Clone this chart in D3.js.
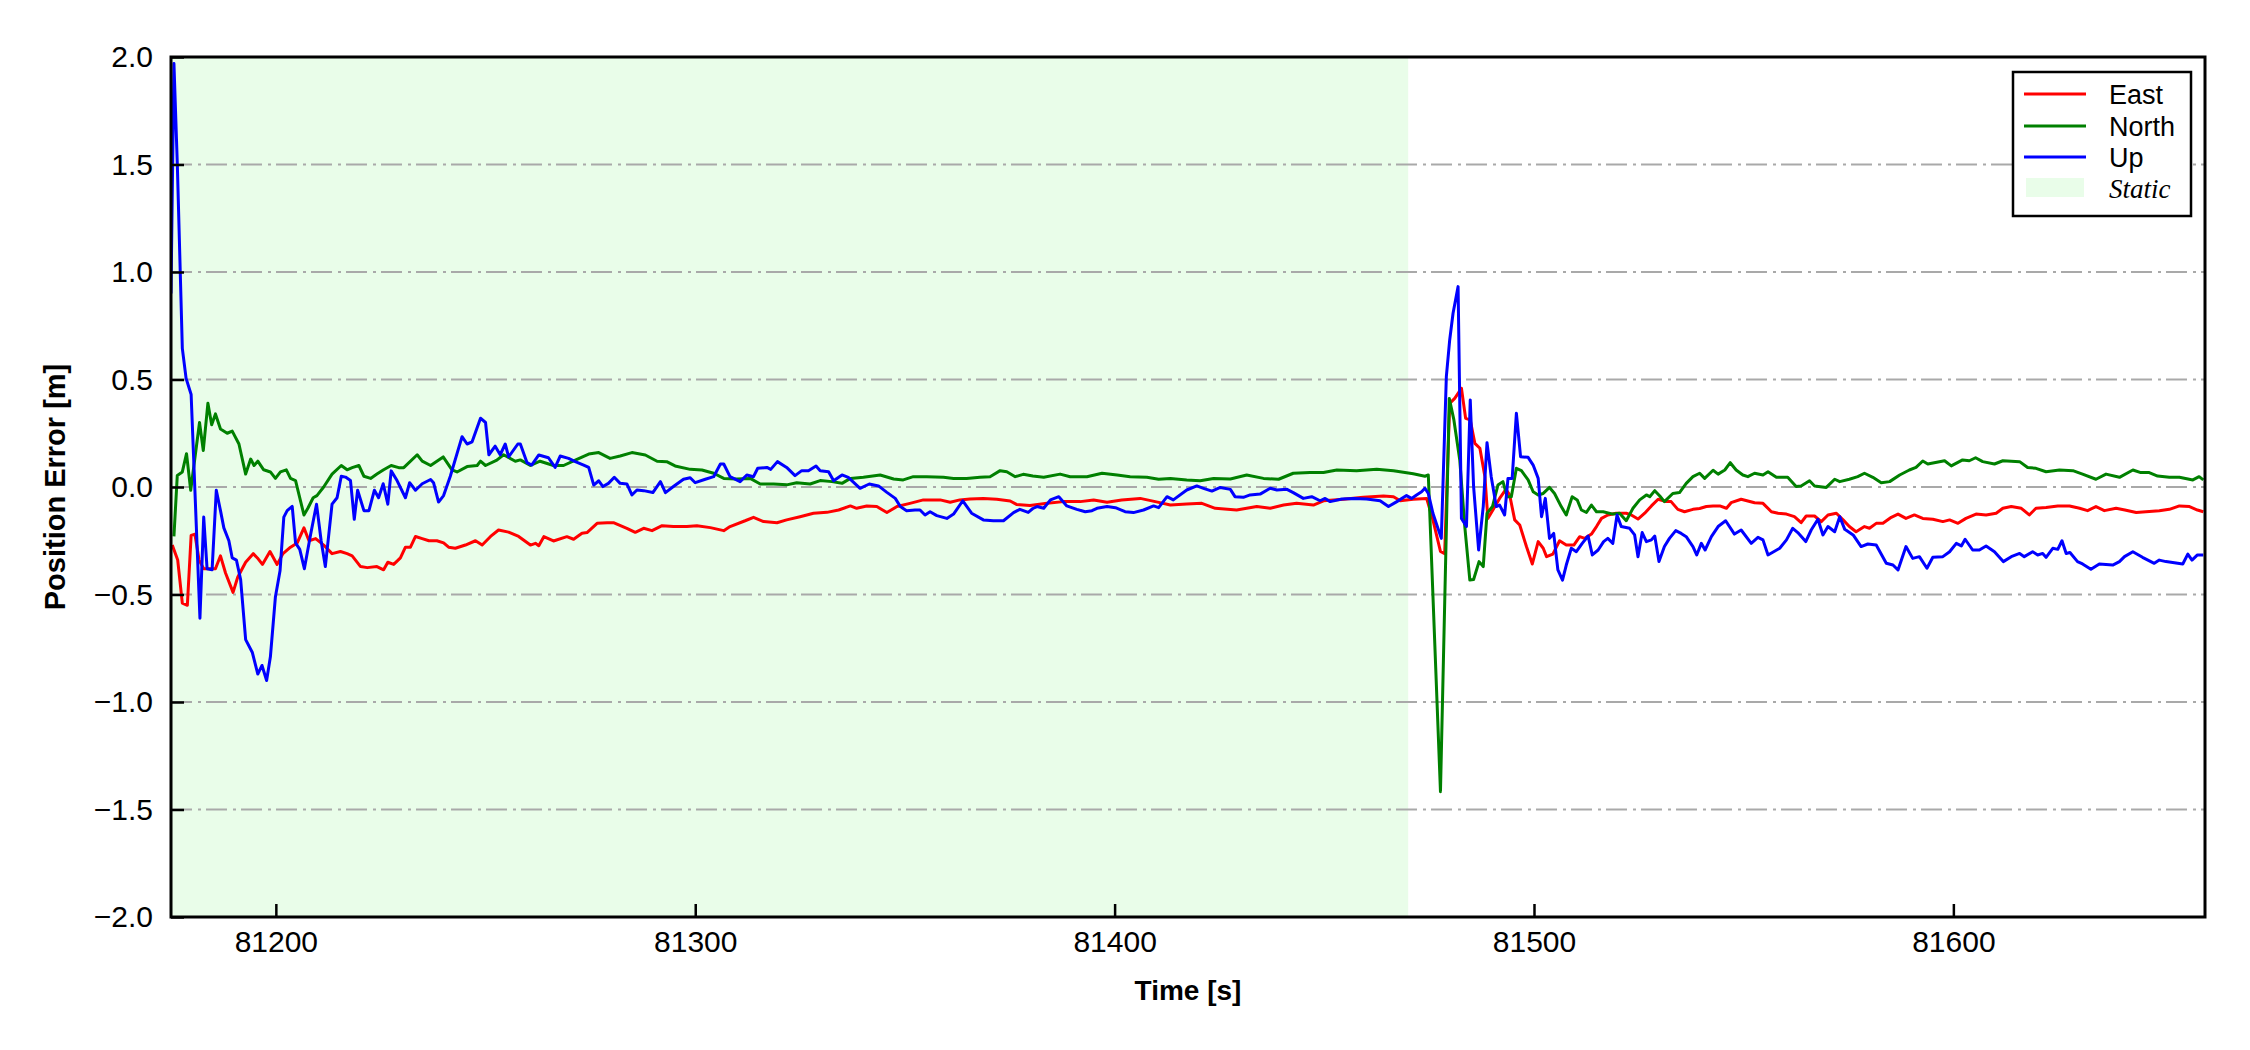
<!DOCTYPE html>
<html>
<head>
<meta charset="utf-8">
<script src="https://cdn.jsdelivr.net/npm/d3@7"></script>
<style>
  html, body { margin: 0; padding: 0; background: #fff; }
  svg { display: block; }
</style>
</head>
<body>
<svg id="chart" width="2250" height="1050"></svg>
<script>
// ---------------- DATA ----------------
const xDomain = [81175, 81660];
const yDomain = [-2, 2];
const xTicks = [81200, 81300, 81400, 81500, 81600];
const yTicks = [-2, -1.5, -1, -0.5, 0, 0.5, 1, 1.5, 2];
const staticSpan = [81175, 81470];
const seriesNames = ["East", "North", "Up"];
const staticLabel = "Static";
const xTitle = "Time [s]";
const yTitle = "Position Error [m]";

const east = [[81175.3,-0.27],[81176.6,-0.34],[81177.7,-0.54],[81178.9,-0.55],[81179.8,-0.225],[81180.7,-0.22],[81181.7,-0.34],[81182.8,-0.38],[81184,-0.38],[81185.6,-0.38],[81186.8,-0.32],[81188,-0.40],[81189.8,-0.49],[81190.9,-0.42],[81192.8,-0.35],[81194.6,-0.31],[81195.6,-0.33],[81196.8,-0.36],[81198.6,-0.30],[81200.3,-0.36],[81201.7,-0.31],[81203.5,-0.28],[81205.1,-0.26],[81206.7,-0.19],[81207.9,-0.25],[81209.5,-0.24],[81211.4,-0.27],[81213.4,-0.31],[81215.4,-0.30],[81217,-0.31],[81218.2,-0.32],[81220.2,-0.37],[81221.8,-0.375],[81224.1,-0.37],[81225.7,-0.385],[81226.7,-0.35],[81228.1,-0.36],[81229.7,-0.33],[81230.9,-0.28],[81232.1,-0.28],[81233.3,-0.23],[81234.9,-0.24],[81236.5,-0.25],[81238.4,-0.25],[81240,-0.26],[81241.2,-0.28],[81242.8,-0.285],[81245.2,-0.27],[81247.6,-0.25],[81249.2,-0.27],[81251.2,-0.23],[81253.1,-0.2],[81255.5,-0.21],[81257.9,-0.23],[81260.7,-0.27],[81261.9,-0.262],[81262.7,-0.273],[81263.9,-0.231],[81266.2,-0.251],[81269.4,-0.231],[81271,-0.243],[81273,-0.215],[81274.2,-0.212],[81276.6,-0.169],[81279,-0.166],[81280.5,-0.166],[81283.7,-0.192],[81285.7,-0.211],[81287.7,-0.192],[81289.7,-0.203],[81292.1,-0.18],[81294.8,-0.184],[81298,-0.184],[81300.4,-0.18],[81303.6,-0.189],[81306.8,-0.203],[81308.3,-0.184],[81311.9,-0.157],[81313.9,-0.141],[81316.3,-0.161],[81319.5,-0.166],[81321.8,-0.153],[81325,-0.138],[81328.2,-0.122],[81331.4,-0.118],[81334.2,-0.107],[81337,-0.088],[81338.5,-0.099],[81340.9,-0.088],[81343.3,-0.091],[81345.7,-0.119],[81348.1,-0.091],[81351.2,-0.076],[81354.4,-0.06],[81358.4,-0.06],[81360.8,-0.071],[81363.1,-0.06],[81365.5,-0.056],[81368.7,-0.053],[81371.9,-0.057],[81375.1,-0.065],[81376.6,-0.081],[81379.8,-0.086],[81383.9,-0.076],[81387.8,-0.068],[81391.8,-0.068],[81395,-0.06],[81398.2,-0.071],[81401.7,-0.06],[81406.1,-0.053],[81409.7,-0.068],[81413.3,-0.084],[81417.2,-0.079],[81420.8,-0.076],[81424,-0.099],[81429.1,-0.107],[81433.9,-0.091],[81437.1,-0.099],[81440.3,-0.084],[81443.4,-0.076],[81447.4,-0.084],[81449.8,-0.064],[81454.6,-0.057],[81459.3,-0.048],[81464.1,-0.042],[81466.5,-0.045],[81468.1,-0.064],[81471.2,-0.057],[81474.4,-0.053],[81475.9,-0.153],[81477.7,-0.30],[81478.7,-0.31],[81479.9,0.389],[81481.1,0.412],[81482.7,0.459],[81483.7,0.319],[81484.8,0.312],[81485.9,0.203],[81487.1,0.18],[81488.3,0.048],[81489,-0.146],[81490.2,-0.107],[81491.8,-0.053],[81493.3,-0.011],[81494.2,-0.037],[81495.4,-0.153],[81496.6,-0.177],[81498.2,-0.277],[81499.6,-0.358],[81501,-0.254],[81502.2,-0.285],[81503,-0.324],[81504.5,-0.312],[81506.1,-0.25],[81507.7,-0.27],[81509.5,-0.27],[81510.9,-0.231],[81512.1,-0.239],[81513.7,-0.219],[81514.9,-0.184],[81516.1,-0.146],[81517.6,-0.13],[81519.6,-0.122],[81522,-0.122],[81523.2,-0.13],[81524.8,-0.149],[81526.4,-0.122],[81528,-0.088],[81529.6,-0.057],[81531.5,-0.068],[81532.7,-0.068],[81534.3,-0.104],[81535.9,-0.115],[81537.9,-0.104],[81539.5,-0.1],[81541.1,-0.091],[81542.7,-0.088],[81544.3,-0.088],[81545.9,-0.099],[81547,-0.073],[81549.4,-0.057],[81552.6,-0.073],[81554.6,-0.076],[81556.6,-0.115],[81558.2,-0.122],[81560.2,-0.126],[81562.1,-0.138],[81563.7,-0.166],[81564.9,-0.135],[81566.9,-0.135],[81568.5,-0.161],[81570.1,-0.13],[81572.1,-0.122],[81573.7,-0.153],[81575.2,-0.184],[81576.8,-0.208],[81578.8,-0.184],[81580,-0.192],[81581.6,-0.169],[81583.2,-0.169],[81585.2,-0.141],[81586.8,-0.126],[81588.7,-0.146],[81590.7,-0.13],[81592.7,-0.146],[81595.1,-0.15],[81597.5,-0.161],[81599.1,-0.153],[81601.1,-0.169],[81603,-0.146],[81605.4,-0.126],[81607.8,-0.13],[81610.2,-0.122],[81611.8,-0.099],[81613.8,-0.091],[81616.2,-0.099],[81618.1,-0.13],[81619.7,-0.099],[81622.1,-0.095],[81624.9,-0.088],[81627.7,-0.088],[81630.1,-0.099],[81632,-0.11],[81634,-0.091],[81636,-0.11],[81638.8,-0.099],[81640.9,-0.107],[81643.6,-0.119],[81645.9,-0.115],[81649.1,-0.11],[81651.5,-0.104],[81653.9,-0.088],[81656.3,-0.091],[81658.2,-0.107],[81659.6,-0.115]];

const north = [[81175.7,-0.23],[81176.5,0.054],[81177.7,0.07],[81178.7,0.155],[81179.7,-0.015],[81181.8,0.30],[81182.7,0.17],[81183.8,0.39],[81184.7,0.29],[81185.6,0.34],[81186.8,0.27],[81188.4,0.25],[81189.6,0.26],[81191.2,0.2],[81192.8,0.06],[81194,0.13],[81194.8,0.1],[81195.7,0.12],[81197.1,0.08],[81198.7,0.07],[81199.9,0.04],[81201.1,0.07],[81202.5,0.08],[81203.5,0.04],[81204.7,0.03],[81206.7,-0.13],[81207.6,-0.1],[81208.9,-0.05],[81209.8,-0.04],[81211.4,0.0],[81213.4,0.06],[81215.6,0.1],[81217,0.08],[81218.2,0.09],[81219.8,0.1],[81221,0.05],[81222.6,0.04],[81224.1,0.06],[81225.7,0.08],[81227.5,0.1],[81229.3,0.09],[81230.5,0.09],[81233.7,0.15],[81234.9,0.12],[81236.9,0.1],[81239.9,0.14],[81242,0.08],[81243.2,0.07],[81245.6,0.095],[81248,0.10],[81248.8,0.12],[81250,0.10],[81252.7,0.125],[81254.3,0.15],[81257.1,0.12],[81258.3,0.126],[81260.7,0.1],[81263,0.12],[81266.2,0.10],[81268.6,0.10],[81271.4,0.125],[81274.6,0.153],[81277,0.16],[81279.7,0.133],[81282.1,0.144],[81284.9,0.16],[81288.1,0.149],[81290.9,0.12],[81293.2,0.118],[81295.2,0.098],[81298.8,0.082],[81301.6,0.079],[81304.4,0.064],[81306.8,0.04],[81309.9,0.037],[81313.1,0.04],[81315.5,0.014],[81318.7,0.014],[81321.8,0.01],[81324.2,0.02],[81327.4,0.014],[81329.8,0.03],[81332.6,0.025],[81335,0.017],[81337,0.04],[81340.1,0.045],[81344.1,0.056],[81347.3,0.037],[81349.6,0.033],[81352,0.048],[81355.2,0.048],[81359.2,0.045],[81361.6,0.04],[81364.7,0.04],[81367.9,0.045],[81370.3,0.048],[81372.7,0.076],[81374.3,0.071],[81376.3,0.048],[81378.2,0.059],[81380.5,0.051],[81383.1,0.045],[81387,0.06],[81389.4,0.048],[81393.4,0.048],[81397,0.064],[81400.6,0.056],[81403.7,0.048],[81407.7,0.045],[81410.5,0.036],[81413.3,0.04],[81417.2,0.033],[81420.4,0.029],[81423.6,0.04],[81427.6,0.037],[81431.5,0.056],[81435.5,0.04],[81439.1,0.036],[81442.6,0.064],[81446.6,0.067],[81449.8,0.067],[81453,0.079],[81457.7,0.076],[81462.5,0.082],[81466.5,0.076],[81471.2,0.062],[81474,0.05],[81474.8,0.056],[81477.7,-1.417],[81479.8,0.412],[81480.9,0.312],[81482.3,0.126],[81483.5,-0.184],[81484.7,-0.433],[81485.6,-0.43],[81486.9,-0.347],[81487.9,-0.37],[81488.8,-0.122],[81490.1,-0.091],[81491.4,0.009],[81492.6,0.025],[81493.6,-0.045],[81494.6,-0.045],[81495.8,0.087],[81497,0.076],[81498.6,0.033],[81499.8,-0.022],[81501,-0.037],[81502.2,-0.03],[81503.7,-0.002],[81504.9,-0.03],[81506.5,-0.091],[81507.7,-0.13],[81509.1,-0.045],[81510.3,-0.06],[81511.3,-0.107],[81512.5,-0.118],[81513.7,-0.084],[81514.9,-0.115],[81516.5,-0.115],[81518.8,-0.126],[81520.4,-0.122],[81522,-0.157],[81523.6,-0.099],[81525.2,-0.06],[81526.8,-0.037],[81527.6,-0.045],[81528.8,-0.017],[81530,-0.042],[81531.1,-0.068],[81533.1,-0.03],[81534.7,-0.026],[81536.3,0.017],[81537.9,0.048],[81539.5,0.064],[81540.7,0.04],[81542.7,0.078],[81543.9,0.06],[81545.5,0.079],[81546.8,0.113],[81548.2,0.079],[81549.8,0.056],[81551,0.048],[81552.6,0.064],[81554.6,0.056],[81555.8,0.071],[81557.8,0.045],[81560.5,0.045],[81562.5,0.002],[81563.7,0.005],[81565.7,0.029],[81566.9,0.005],[81569.7,-0.002],[81571.7,0.036],[81572.9,0.025],[81575.2,0.036],[81577.2,0.048],[81578.8,0.064],[81580.8,0.045],[81582.8,0.02],[81584.8,0.025],[81587.2,0.056],[81589.5,0.079],[81591.1,0.091],[81592.7,0.121],[81593.9,0.107],[81597.9,0.122],[81599.5,0.098],[81602.2,0.126],[81603.8,0.122],[81605.3,0.136],[81607,0.118],[81609.8,0.107],[81611.8,0.122],[81615.8,0.118],[81617.7,0.091],[81619.7,0.087],[81622.1,0.071],[81625.3,0.079],[81628.5,0.076],[81630.8,0.06],[81634,0.036],[81636.4,0.06],[81639.6,0.045],[81642.8,0.079],[81644.7,0.067],[81646.7,0.067],[81648.7,0.051],[81651.5,0.045],[81653.9,0.045],[81657.1,0.033],[81658.6,0.048],[81659.6,0.033]];

const up = [[81175.0,0.9],[81175.7,1.97],[81176.5,1.505],[81177.7,0.645],[81178.6,0.505],[81179.8,0.43],[81181.9,-0.61],[81182.8,-0.14],[81183.6,-0.38],[81184.8,-0.385],[81185.8,-0.015],[81186.8,-0.11],[81187.6,-0.19],[81188.8,-0.25],[81189.6,-0.33],[81190.6,-0.34],[81191.6,-0.43],[81192.8,-0.71],[81194.4,-0.77],[81195.7,-0.87],[81196.7,-0.83],[81197.8,-0.9],[81198.7,-0.79],[81199.9,-0.51],[81201,-0.39],[81201.9,-0.14],[81202.7,-0.11],[81203.9,-0.09],[81204.7,-0.26],[81205.7,-0.29],[81206.8,-0.38],[81208.3,-0.22],[81209.7,-0.08],[81210.8,-0.25],[81211.8,-0.37],[81213.4,-0.08],[81214.6,-0.05],[81215.6,0.05],[81216.6,0.046],[81217.8,0.03],[81218.7,-0.15],[81219.5,-0.015],[81221,-0.11],[81222.2,-0.11],[81223.5,-0.015],[81224.5,-0.05],[81225.6,0.015],[81226.7,-0.08],[81227.5,0.075],[81228.9,0.03],[81230.9,-0.05],[81231.9,0.02],[81233.3,-0.015],[81234.9,0.015],[81236.9,0.035],[81237.6,0.02],[81238.8,-0.07],[81240,-0.04],[81241.6,0.05],[81244.4,0.234],[81245.6,0.2],[81246.8,0.21],[81248.8,0.32],[81250,0.30],[81250.8,0.15],[81252.3,0.19],[81253.5,0.15],[81254.7,0.2],[81255.5,0.14],[81257.7,0.2],[81258.3,0.2],[81259.9,0.113],[81261,0.102],[81262.7,0.149],[81265,0.136],[81266.6,0.091],[81267.8,0.144],[81269.8,0.133],[81271.4,0.118],[81273.4,0.102],[81274.6,0.091],[81275.8,0.009],[81277,0.029],[81278,0.002],[81279.3,0.017],[81280.7,0.045],[81282.1,0.017],[81283.7,0.014],[81284.9,-0.037],[81286.1,-0.014],[81287.7,-0.017],[81289.9,-0.026],[81291.7,0.025],[81292.9,-0.026],[81294.8,0.002],[81297.2,0.036],[81298.8,0.043],[81300,0.02],[81302.4,0.036],[81304.4,0.048],[81306,0.107],[81306.8,0.107],[81308.3,0.048],[81310.7,0.025],[81312.3,0.056],[81313.9,0.048],[81314.9,0.087],[81317.1,0.091],[81318,0.082],[81319.6,0.118],[81321.8,0.091],[81323.8,0.053],[81325.4,0.076],[81327,0.076],[81328.8,0.098],[81329.8,0.076],[81331.8,0.071],[81333,0.029],[81335,0.056],[81336.5,0.045],[81339.3,-0.006],[81341.5,0.014],[81343.7,0.005],[81345.7,-0.025],[81347.7,-0.053],[81348.9,-0.091],[81350.4,-0.11],[81352.4,-0.107],[81353.6,-0.107],[81354.8,-0.13],[81356,-0.115],[81357.6,-0.133],[81360,-0.146],[81361.6,-0.126],[81363.8,-0.064],[81365.9,-0.122],[81368.7,-0.153],[81371.1,-0.157],[81373.5,-0.157],[81375.9,-0.119],[81377.4,-0.104],[81379.4,-0.118],[81380.5,-0.1],[81381.5,-0.091],[81383.1,-0.099],[81384.7,-0.06],[81386.7,-0.045],[81388.6,-0.088],[81391,-0.104],[81393,-0.115],[81394.6,-0.11],[81395.8,-0.099],[81398.2,-0.091],[81400.2,-0.096],[81402.5,-0.115],[81404.5,-0.119],[81406.9,-0.107],[81409.3,-0.088],[81410.5,-0.096],[81412.5,-0.045],[81414,-0.06],[81417.2,-0.014],[81419.6,0.005],[81421.2,-0.006],[81423.2,-0.019],[81425.2,-0.002],[81427.6,-0.011],[81428.7,-0.045],[81430.7,-0.048],[81432.3,-0.037],[81434.7,-0.033],[81437.1,-0.006],[81438.7,-0.014],[81441.1,-0.011],[81442.6,-0.026],[81445,-0.053],[81447,-0.045],[81449,-0.064],[81450.2,-0.053],[81451.4,-0.068],[81454.2,-0.056],[81457,-0.053],[81460.1,-0.056],[81463.3,-0.064],[81465.3,-0.091],[81467.3,-0.068],[81469.6,-0.04],[81470.8,-0.053],[81472,-0.037],[81473.2,-0.022],[81474,-0.006],[81474.8,-0.03],[81475.9,-0.122],[81477.9,-0.239],[81479.1,0.513],[81479.9,0.684],[81480.7,0.808],[81481.9,0.932],[81482.7,-0.146],[81483.9,-0.184],[81484.8,0.405],[81485.6,0.002],[81486.8,-0.293],[81487.9,-0.091],[81488.8,0.206],[81489.8,0.048],[81491,-0.091],[81491.8,-0.084],[81493,-0.13],[81493.8,0.04],[81494.8,0.04],[81495.8,0.343],[81496.8,0.141],[81498.6,0.138],[81499.8,0.102],[81501,0.04],[81501.8,-0.138],[81502.7,-0.053],[81503.7,-0.239],[81504.7,-0.216],[81505.7,-0.386],[81506.8,-0.433],[81507.7,-0.363],[81508.9,-0.285],[81510.1,-0.301],[81511.5,-0.262],[81512.9,-0.228],[81513.9,-0.316],[81515.3,-0.293],[81516.6,-0.254],[81517.6,-0.239],[81518.8,-0.262],[81519.8,-0.13],[81520.8,-0.184],[81522.8,-0.192],[81524,-0.223],[81524.8,-0.324],[81525.8,-0.212],[81526.8,-0.254],[81528,-0.246],[81528.8,-0.228],[81529.8,-0.347],[81531.1,-0.277],[81532.3,-0.239],[81533.8,-0.203],[81535.1,-0.216],[81536.3,-0.231],[81537.9,-0.277],[81538.8,-0.316],[81539.9,-0.262],[81540.8,-0.293],[81542.3,-0.231],[81543.9,-0.184],[81545.7,-0.157],[81547.8,-0.219],[81549.4,-0.2],[81551.8,-0.262],[81553.4,-0.234],[81554.6,-0.246],[81555.8,-0.316],[81558.6,-0.285],[81560.2,-0.246],[81561.7,-0.192],[81562.9,-0.212],[81564.8,-0.254],[81566.1,-0.2],[81567.7,-0.15],[81568.9,-0.223],[81570.1,-0.184],[81571.7,-0.208],[81572.9,-0.138],[81574.1,-0.197],[81576.1,-0.223],[81578,-0.277],[81579.6,-0.265],[81581.6,-0.27],[81584,-0.355],[81585.6,-0.363],[81586.8,-0.386],[81588.7,-0.277],[81590.3,-0.332],[81591.9,-0.324],[81593.7,-0.378],[81595.1,-0.327],[81597.5,-0.324],[81599.1,-0.301],[81600.7,-0.262],[81601.9,-0.274],[81602.8,-0.243],[81604.6,-0.293],[81606.2,-0.293],[81607.8,-0.274],[81609.8,-0.301],[81611.9,-0.347],[81613.8,-0.324],[81615.8,-0.309],[81616.9,-0.324],[81618.9,-0.301],[81620.1,-0.316],[81621.3,-0.309],[81622.1,-0.327],[81623.7,-0.285],[81624.9,-0.29],[81625.9,-0.25],[81626.9,-0.309],[81627.8,-0.305],[81629.6,-0.347],[81630.8,-0.358],[81632.8,-0.383],[81634.8,-0.358],[81638,-0.363],[81639.6,-0.347],[81640.8,-0.324],[81642.8,-0.301],[81645.1,-0.327],[81647.9,-0.355],[81649.1,-0.34],[81650.7,-0.347],[81652.7,-0.352],[81654.7,-0.358],[81655.9,-0.312],[81656.9,-0.34],[81658.2,-0.316],[81659.6,-0.316]];

const seriesData = [east, north, up];
const seriesColors = ["#ff0000", "#008000", "#0000ff"];
const staticColor = "#e9fde9";

// ---------------- LAYOUT ----------------
const M = { left: 171, right: 2205, top: 57, bottom: 917 };
const svg = d3.select("#chart");
const x = d3.scaleLinear().domain(xDomain).range([M.left, M.right]);
const y = d3.scaleLinear().domain(yDomain).range([M.bottom, M.top]);

const tickFont = "'Liberation Sans', Arial, Helvetica, sans-serif";
const fmtY = v => d3.format(".1f")(v).replace("-", "\u2212");

svg.append("defs").append("clipPath").attr("id", "clip")
  .append("rect").attr("x", M.left).attr("y", M.top)
  .attr("width", M.right - M.left).attr("height", M.bottom - M.top);

// static shading
svg.append("rect")
  .attr("x", x(staticSpan[0])).attr("y", M.top)
  .attr("width", x(staticSpan[1]) - x(staticSpan[0]))
  .attr("height", M.bottom - M.top)
  .attr("fill", staticColor)
  .attr("clip-path", "url(#clip)");

// gridlines
svg.append("g").selectAll("line")
  .data(yTicks.filter(v => v > yDomain[0] && v < yDomain[1]))
  .join("line")
  .attr("x1", M.left).attr("x2", M.right)
  .attr("y1", d => y(d)).attr("y2", d => y(d))
  .attr("stroke", "#a9a9a9").attr("stroke-width", 2)
  .attr("stroke-dasharray", "21,6,3,5");

// lines
const line = d3.line().x(d => x(d[0])).y(d => y(d[1]));
svg.append("g").attr("clip-path", "url(#clip)")
  .selectAll("path").data(seriesData).join("path")
  .attr("d", line)
  .attr("fill", "none")
  .attr("stroke", (d, i) => seriesColors[i])
  .attr("stroke-width", 3)
  .attr("stroke-linejoin", "round");

// axes
const yAxis = d3.axisLeft(y).tickValues(yTicks).tickFormat(fmtY)
  .tickSize(-13).tickPadding(18);
const gy = svg.append("g").attr("transform", `translate(${M.left},0)`).call(yAxis);
const xAxis = d3.axisBottom(x).tickValues(xTicks).tickFormat(d3.format("d"))
  .tickSize(-13).tickPadding(14);
const gx = svg.append("g").attr("transform", `translate(0,${M.bottom})`).call(xAxis);
[gx, gy].forEach(g => {
  g.select(".domain").remove();
  g.selectAll(".tick line").attr("stroke", "#000").attr("stroke-width", 2.5);
  g.selectAll(".tick text").attr("fill", "#000")
    .style("font-family", tickFont).style("font-size", "30px");
});

// frame
svg.append("rect")
  .attr("x", M.left).attr("y", M.top)
  .attr("width", M.right - M.left).attr("height", M.bottom - M.top)
  .attr("fill", "none").attr("stroke", "#000").attr("stroke-width", 3);

// axis titles
svg.append("text")
  .attr("x", (M.left + M.right) / 2).attr("y", 1000)
  .attr("text-anchor", "middle")
  .style("font-family", tickFont).style("font-size", "28px").style("font-weight", "bold")
  .text(xTitle);
svg.append("text")
  .attr("transform", `translate(65,${(M.top + M.bottom) / 2}) rotate(-90)`)
  .attr("text-anchor", "middle")
  .style("font-family", tickFont).style("font-size", "29px").style("font-weight", "bold")
  .text(yTitle);

// legend
const lg = svg.append("g");
lg.append("rect").attr("x", 2013).attr("y", 72).attr("width", 178).attr("height", 144)
  .attr("fill", "#fff").attr("stroke", "#000").attr("stroke-width", 2.5);
const rowY = [94, 126, 157, 188];
seriesNames.forEach((name, i) => {
  lg.append("line").attr("x1", 2024).attr("x2", 2086)
    .attr("y1", rowY[i]).attr("y2", rowY[i])
    .attr("stroke", seriesColors[i]).attr("stroke-width", 3);
  lg.append("text").attr("x", 2109).attr("y", rowY[i] + 10)
    .style("font-family", tickFont).style("font-size", "27px").text(name);
});
lg.append("rect").attr("x", 2026).attr("y", 178).attr("width", 58).attr("height", 19)
  .attr("fill", staticColor);
lg.append("text").attr("x", 2109).attr("y", rowY[3] + 10)
  .style("font-family", "'Liberation Serif', 'Times New Roman', serif")
  .style("font-style", "italic").style("font-size", "27px").text(staticLabel);
</script>
</body>
</html>
